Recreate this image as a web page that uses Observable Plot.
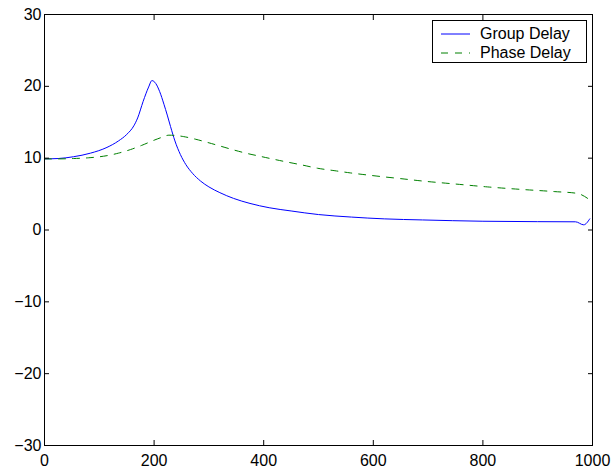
<!DOCTYPE html>
<html><head><meta charset="utf-8">
<script src="https://cdn.jsdelivr.net/npm/d3@7"></script>
<script src="https://cdn.jsdelivr.net/npm/@observablehq/plot@0.6"></script>
<style>
body{margin:0;background:#fff;}
#wrap{position:relative;width:613px;height:469px;font-family:"Liberation Sans",Arial,Helvetica,sans-serif;}
#legend{position:absolute;left:432px;top:20px;width:153px;height:41px;border:1px solid #000;background:#fff;font-size:16px;color:#000;}
#legend .row{position:absolute;left:0;height:18px;display:flex;align-items:center;}
#legend svg{margin-left:8px;margin-right:10px;}
</style></head><body><div id="wrap"></div>
<script>
const groupFreq = [0, 25, 53, 84, 114, 135, 150, 163, 170, 180, 190, 196, 203, 210, 218, 224, 230, 238, 248, 258, 270, 285, 300, 320, 345, 375, 410, 450, 500, 560, 620, 690, 800, 900, 969, 984, 995];
const groupDelay = [9.9, 9.95, 10.2, 10.7, 11.5, 12.4, 13.3, 14.5, 15.6, 17.9, 19.9, 20.8, 20.4, 19.3, 17.5, 16.0, 14.4, 12.4, 10.5, 9.1, 7.9, 6.8, 6.0, 5.2, 4.4, 3.7, 3.1, 2.65, 2.15, 1.8, 1.55, 1.4, 1.22, 1.16, 1.14, 0.72, 1.55];
const phaseFreq = [0, 25, 53, 80, 114, 135, 157, 178, 200, 214, 227, 240, 254, 275, 297, 320, 345, 370, 391, 415, 437, 470, 498, 530, 558, 590, 619, 650, 692, 750, 808, 870, 930, 972, 995];
const phaseDelay = [9.9, 9.9, 9.95, 10.05, 10.35, 10.7, 11.2, 11.8, 12.5, 12.9, 13.2, 13.15, 13.0, 12.65, 12.2, 11.7, 11.15, 10.65, 10.3, 9.9, 9.55, 9.05, 8.6, 8.25, 7.95, 7.65, 7.4, 7.15, 6.8, 6.4, 6.0, 5.65, 5.35, 5.1, 4.2];
const xTicks = [0, 200, 400, 600, 800, 1000];
const yTicks = [-30, -20, -10, 0, 10, 20, 30];
const seriesNames = ["Group Delay", "Phase Delay"];
const seriesColors = ["#0000ff", "#008000"];
const seriesDash = [null, "7,7"];

const group = groupFreq.map((f, i) => ({f, v: groupDelay[i]}));
const phase = phaseFreq.map((f, i) => ({f, v: phaseDelay[i]}));
const fmt = d => d < 0 ? "\u2212" + Math.abs(d) : String(d);
const blank = () => "";

const chart = Plot.plot({
  width: 613, height: 469,
  marginLeft: 44, marginRight: 21, marginTop: 14, marginBottom: 24,
  style: {fontFamily: '"Liberation Sans",Arial,Helvetica,sans-serif', fontSize: "16px", background: "#fff", color: "#000"},
  x: {domain: [0, 1000]},
  y: {domain: [-30, 30]},
  marks: [
    Plot.line(group, {x: "f", y: "v", stroke: seriesColors[0], strokeWidth: 1, curve: "monotone-x"}),
    Plot.line(phase, {x: "f", y: "v", stroke: seriesColors[1], strokeWidth: 1, strokeDasharray: seriesDash[1], curve: "monotone-x"}),
    Plot.frame({stroke: "#000", strokeWidth: 1}),
    Plot.axisX(xTicks, {anchor: "bottom", tickSize: 0, tickPadding: 9, tickFormat: fmt, label: null}),
    Plot.axisX(xTicks, {anchor: "bottom", tickSize: 5, dy: -5, tickFormat: blank, label: null}),
    Plot.axisX(xTicks, {anchor: "top", tickSize: 5, dy: 5, tickFormat: blank, label: null}),
    Plot.axisY(yTicks, {anchor: "left", tickSize: 0, tickPadding: 3, tickFormat: fmt, label: null}),
    Plot.axisY(yTicks, {anchor: "left", tickSize: 5, dx: 5, tickFormat: blank, label: null}),
    Plot.axisY(yTicks, {anchor: "right", tickSize: 5, dx: -5, tickFormat: blank, label: null})
  ]
});
const wrap = document.getElementById("wrap");
wrap.appendChild(chart);

const legend = document.createElement("div");
legend.id = "legend";
seriesNames.forEach((name, i) => {
  const row = document.createElement("div");
  row.className = "row";
  row.style.top = (4 + i * 19) + "px";
  row.innerHTML = `<svg width="29" height="4"><line x1="0" y1="2" x2="29" y2="2" stroke="${seriesColors[i]}" stroke-width="1" ${seriesDash[i] ? `stroke-dasharray="${seriesDash[i]}"` : ""}/></svg><span>${name}</span>`;
  legend.appendChild(row);
});
wrap.appendChild(legend);
</script></body></html>
